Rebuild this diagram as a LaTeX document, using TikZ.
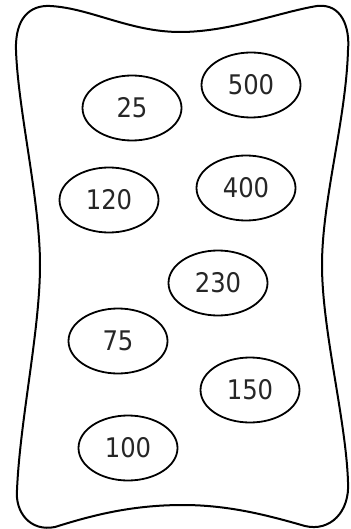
\documentclass[tikz,border=0pt]{standalone}
\usepackage{fontspec}
\setmainfont{DejaVu Sans Condensed}
\usepackage{xcolor}
\usepackage{tikz}
\usetikzlibrary{shapes.geometric}

\begin{document}
\begin{tikzpicture}[
x=1pt, y=-1pt,
outline/.style={
draw,
line width=2pt,
line join=round
},
bubble/.style={
ellipse,
draw,
line width=1.8pt,
inner sep=0pt,
minimum width=99pt,
minimum height=65pt,
text=black!85,
font=\fontsize{27}{30}\selectfont
}
]

\useasboundingbox (0,0) rectangle (350,529);

% Board
\draw[outline] (50,6)
.. controls (90,8) and (130,32) .. (180,32)
.. controls (230,32) and (280,12) .. (317,6)
.. controls (342,3) and (350,28) .. (348,50)
.. controls (346,120) and (322,200) .. (322,265)
.. controls (322,330) and (346,420) .. (348,482)
.. controls (350,512) and (330,532) .. (305,526)
.. controls (270,516) and (230,505) .. (183,505)
.. controls (130,505) and (90,516) .. (55,527)
.. controls (30,532) and (15,512) .. (17,490)
.. controls (20,420) and (40,330) .. (40,265)
.. controls (40,200) and (18,110) .. (16,50)
.. controls (15,18) and (30,5) .. (50,6) -- cycle;

% Left column
\node[bubble] (n25) at (132,108) {25};
\node[bubble] (n120) at (109,200) {120};
\node[bubble] (n75) at (118,341) {75};
\node[bubble] (n100) at (128,448) {100};

% Right column
\node[bubble] (n500) at (251,85) {500};
\node[bubble] (n400) at (246,188) {400};
\node[bubble] (n230) at (218,283) {230};
\node[bubble] (n150) at (250,390) {150};

\end{tikzpicture}
\end{document}
